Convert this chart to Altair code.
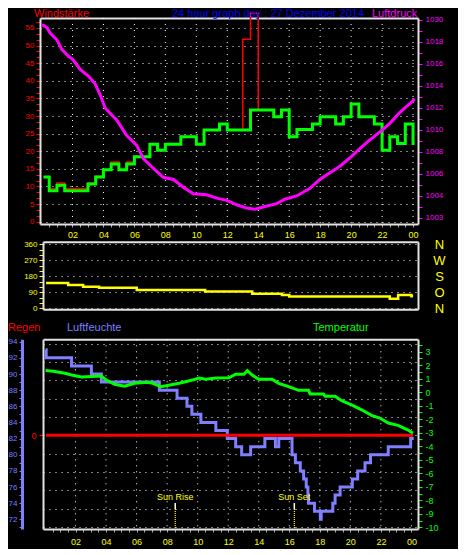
import altair as alt
import pandas as pd

# ---------------- data ----------------
wind_hours = [0.13, 0.5, 1.0, 1.5, 3.0, 3.5, 4.0, 4.5, 5.0, 5.5, 6.0, 7.0, 7.5, 8.0, 9.0, 10.0, 10.5, 11.5, 12.0, 13.5,
              15.0, 15.5, 16.0, 16.5, 17.5, 18.0, 19.0, 19.5, 20.0, 20.5, 21.5, 22.0, 22.5, 23.0, 23.5, 24.0, 24.1]
wind_avg = [12.7, 8.8, 10.3, 8.8, 10.7, 12.7, 14.7, 16.4, 14.7, 16.4, 18.4, 22.0, 20.3, 22.0, 24.1, 22.0, 26.0, 27.7, 26.0, 31.7,
            29.8, 31.7, 24.1, 26.2, 27.7, 29.8, 27.7, 29.8, 33.4, 29.8, 27.7, 20.3, 24.1, 22.2, 27.7, 22.2, 22.2]

gust_hours = [0.13, 0.5, 1.0, 1.5, 3.0, 3.5, 4.0, 4.5, 5.0, 5.5, 6.0, 7.0, 7.5, 8.0, 9.0, 10.0, 10.5, 11.5, 12.0, 13.0,
              13.5, 14.0, 15.0, 15.5, 16.0, 16.5, 17.5, 18.0, 19.0, 19.5, 20.0, 20.5, 21.5, 22.0, 22.5, 23.0, 23.5, 24.0, 24.1]
wind_gust = [12.7, 9.4, 11.0, 9.4, 11.0, 12.9, 14.7, 16.9, 14.7, 16.9, 18.4, 22.0, 20.3, 22.0, 24.1, 22.0, 26.0, 27.7, 26.0, 51.8,
             59.2, 31.7, 29.8, 31.7, 24.1, 26.2, 27.7, 29.8, 27.7, 29.8, 33.4, 29.8, 27.7, 20.3, 24.1, 22.2, 27.7, 22.2, 22.2]

press_hours = [0.03, 0.35, 0.56, 0.99, 1.32, 1.74, 2.03, 2.50, 3.03, 3.46, 3.79, 4.11, 4.65, 4.86, 5.51, 6.15, 6.58, 7.23,
               7.87, 8.52, 9.16, 9.81, 10.67, 11.32, 11.96, 12.61, 13.25, 13.79, 14.32, 15.19, 15.72, 16.48, 17.34, 17.98,
               18.63, 19.28, 20.03, 20.56, 21.21, 21.85, 22.50, 23.15, 23.79, 24.11]
pressure = [1019.6, 1019.3, 1018.8, 1018.2, 1017.3, 1016.7, 1016.4, 1015.5, 1014.9, 1014.2, 1013.2, 1012.0, 1011.2, 1010.9,
            1009.5, 1008.6, 1007.4, 1006.5, 1005.7, 1005.5, 1004.8, 1004.2, 1004.1, 1003.8, 1003.6, 1003.2, 1002.9, 1002.8,
            1003.0, 1003.3, 1003.7, 1004.0, 1004.7, 1005.5, 1006.1, 1006.7, 1007.6, 1008.3, 1009.1, 1009.8, 1010.6, 1011.6,
            1012.4, 1012.8]

dir_hours = [0.07, 1.52, 2.5, 3.54, 6.01, 10.49, 13.57, 15.52, 16.0, 22.58, 23.13, 24.0, 24.1]
wind_dir = [142, 131, 121, 116, 103, 94, 82, 75, 66, 54, 75, 68, 68]
dir_letters_at = [0, 90, 180, 270, 360]

hum_hours = [0.04, 0.08, 1.74, 3.04, 3.69, 7.49, 8.65, 9.3, 9.62, 10.21, 11.19, 11.94, 12.49, 12.88, 13.47, 14.4, 15.09,
             15.31, 16.18, 16.4, 16.72, 16.94, 17.11, 17.22, 17.26, 17.65, 18.03, 18.09, 18.85, 19.0, 19.33, 20.13, 20.48,
             20.96, 21.32, 22.48, 23.95, 24.15]
humidity = [93, 92, 91, 90, 89, 88, 87, 86, 85, 84, 83, 82, 81, 80, 81, 82, 81, 82, 80, 79, 78, 77, 76, 75, 74, 73, 72, 73,
            74, 75, 76, 77, 78, 79, 80, 81, 82, 82]

temp_hours = [0.04, 0.54, 1.3, 1.74, 2.39, 3.69, 4.02, 4.56, 5.21, 5.86, 6.73, 7.06, 7.6, 8.79, 9.66, 10.1, 10.53, 11.19,
              12.05, 12.49, 13.03, 13.25, 13.57, 14.0, 14.87, 15.31, 15.96, 16.61, 17.26, 17.37, 18.24, 18.35, 19.0, 19.43,
              20.08, 20.74, 21.39, 21.93, 22.48, 23.13, 23.78, 24.1]
temperature = [1.6, 1.55, 1.4, 1.27, 1.13, 1.2, 0.9, 0.59, 0.44, 0.66, 0.73, 0.66, 0.41, 0.66, 0.9, 1.05, 0.97, 1.05, 1.07,
               1.33, 1.33, 1.6, 1.27, 0.96, 0.96, 0.66, 0.41, 0.14, 0.14, -0.13, -0.13, -0.3, -0.3, -0.63, -0.93, -1.3,
               -1.71, -1.91, -2.28, -2.45, -2.8, -3.04]

rain_hours = [0.07, 24.1]
rain = [0, 0]

sun_hours = [8.53, 16.33]
sun_labels = ["Sun Rise", "Sun Set"]

grid_hours = [2, 4, 6, 8, 10, 12, 14, 16, 18, 20, 22, 24]
time_ticks = [i * 0.5 for i in range(1, 49)]
wind_ticks = [round(k * 5 / 3, 3) for k in range(0, 35)]
press_ticks = list(range(1002, 1021))
dir_ticks = list(range(0, 361, 30))
hum_ticks = list(range(71, 95))
temp_ticks = [k * 0.5 for k in range(-20, 8)]
rain_ticks = list(range(-5, 6))

titles = ["Windstärke", "24 hour graph day : 27 Dezember 2014", "Luftdruck", "Regen", "Luftfeuchte", "Temperatur"]

# ---------------- styling / layout ----------------
FONT = "Liberation Sans"
FRAME = "#e2e2e2"
GRID = "#ffffff"
RED, GREEN, MAGENTA, YELLOW, HUM, BLUE = "#ff0000", "#00ff00", "#ff00ff", "#ffff00", "#7f7fff", "#0000ff"

W, H = 376, 511
P1_TOP, P1_BOT = 0, 206
P2_TOP, P2_BOT = 223.7, 291.3
P3_TOP, P3_BOT = 321.3, 511

X1 = alt.Scale(domain=[-0.097, 24.32], range=[-2, W], nice=False, zero=False)
X3 = alt.Scale(domain=[-0.13, 24.43], range=[1, W], nice=False, zero=False)
Y_wind = alt.Scale(domain=[-0.68, 57.84], range=[P1_BOT, P1_TOP], nice=False, zero=False)
Y_press = alt.Scale(domain=[1001.45, 1020.18], range=[P1_BOT, P1_TOP], nice=False, zero=False)
Y_dir = alt.Scale(domain=[-5.6, 374.6], range=[P2_BOT, P2_TOP], nice=False, zero=False)
Y_hum = alt.Scale(domain=[70.80, 94.30], range=[P3_BOT, P3_TOP], nice=False, zero=False)
Y_temp = alt.Scale(domain=[-10.126, 3.918], range=[P3_BOT, P3_TOP], nice=False, zero=False)
Y_rain = alt.Scale(domain=[-5.12, 5.246], range=[P3_BOT, P3_TOP], nice=False, zero=False)

HOUR_LABEL = ("datum.value % 2 == 0 ? (datum.value % 24 < 10 ? '0' + (datum.value % 24) : '' + datum.value) : ''")


def border_x(orient, offset):
    return alt.Axis(orient=orient, offset=offset, labels=False, ticks=False, grid=False, domain=True,
                    domainColor=FRAME, domainWidth=2, title=None)


def time_axis(offset, pad):
    return alt.Axis(orient="bottom", offset=offset, values=time_ticks, labelExpr=HOUR_LABEL, labelColor=YELLOW,
                    labelFont=FONT, labelFontSize=9, labelPadding=pad, labelOverlap=False, labelFlush=False,
                    tickColor="#a8a8a8", tickSize=3, domainColor=FRAME, domainWidth=2, grid=False, title=None)


ax_wind = alt.Axis(orient="left", offset=2, values=wind_ticks,
                   labelExpr="datum.value % 5 == 0 ? '' + datum.value : ''",
                   labelColor=RED, labelFont=FONT, labelFontSize=8, labelPadding=2, labelOverlap=False,
                   labelFlush=False, tickColor=RED, tickSize=4, domainColor=FRAME, domainWidth=2,
                   grid=True, gridColor=GRID, gridDash=[1, 5],
                   gridOpacity={"condition": {"test": "datum.value % 5 == 0", "value": 1}, "value": 0},
                   title=None)
ax_press = alt.Axis(orient="right", offset=0, values=press_ticks,
                    labelExpr=("datum.value % 2 != 0 ? '' : datum.value == 1020 ? '1030' : "
                               "datum.value == 1002 ? '1003' : '' + datum.value"),
                    labelColor=MAGENTA, labelFont=FONT, labelFontSize=8, labelPadding=3, labelOverlap=False,
                    labelFlush=False, tickColor=MAGENTA, tickSize=4, domainColor=FRAME, domainWidth=2,
                    grid=False, title=None)
ax_dir = alt.Axis(orient="left", offset=-1, values=dir_ticks,
                  labelExpr="datum.value % 90 == 0 ? '' + datum.value : ''",
                  labelColor=YELLOW, labelFont=FONT, labelFontSize=8, labelPadding=2, labelOverlap=False,
                  labelFlush=False, tickColor=YELLOW, tickSize=4, domainColor=FRAME, domainWidth=2,
                  grid=True, gridColor=GRID, gridDash=[1, 5],
                  gridOpacity={"condition": {"test": "datum.value % 90 == 0", "value": 1}, "value": 0},
                  title=None)
ax_dir_letters = alt.Axis(orient="right", offset=0, values=dir_letters_at,
                          labelExpr=("datum.value == 360 ? 'N' : datum.value == 270 ? 'W' : "
                                     "datum.value == 180 ? 'S' : datum.value == 90 ? 'O' : 'N'"),
                          labelColor=YELLOW, labelFont=FONT, labelFontSize=13, labelAlign="center",
                          labelPadding=21, labelOverlap=False, labelFlush=False, tickSize=0, tickOpacity=0,
                          domainColor=FRAME, domainWidth=2, grid=False, title=None)
ax_hum = alt.Axis(orient="left", offset=20, values=hum_ticks,
                  labelExpr="datum.value % 2 == 0 ? '' + datum.value : ''",
                  labelColor=HUM, labelFont=FONT, labelFontSize=8, labelPadding=2, labelOverlap=False,
                  labelFlush=False, tickColor=HUM, tickSize=3, domainColor=HUM, domainWidth=3,
                  grid=False, title=None)
ax_rain = alt.Axis(orient="left", offset=-1, values=rain_ticks,
                   labelExpr="datum.value == 0 ? '0' : ''",
                   labelColor=RED, labelFont=FONT, labelFontSize=9, labelPadding=3, labelOverlap=False,
                   labelFlush=False, tickColor=RED, tickSize=4,
                   tickOpacity={"condition": {"test": "datum.value == 0", "value": 1}, "value": 0},
                   domainColor=FRAME, domainWidth=2, grid=True, gridColor=GRID, gridDash=[1, 5], title=None)
ax_temp = alt.Axis(orient="right", offset=0, values=temp_ticks,
                   labelExpr="datum.value % 1 == 0 ? '' + datum.value : ''",
                   labelColor=GREEN, labelFont=FONT, labelFontSize=9, labelPadding=3, labelOverlap=False,
                   labelFlush=False, tickColor=GREEN, tickSize=4, domainColor=FRAME, domainWidth=2,
                   grid=False, title=None)

# ---------------- tables ----------------
df_wind = pd.DataFrame({"h": wind_hours, "v": wind_avg})
df_gust = pd.DataFrame({"h": gust_hours, "v": wind_gust})
df_press = pd.DataFrame({"h": press_hours, "v": pressure})
df_dir = pd.DataFrame({"h": dir_hours, "v": wind_dir})
df_hum = pd.DataFrame({"h": hum_hours, "v": humidity})
df_temp = pd.DataFrame({"h": temp_hours, "v": temperature})
df_rain = pd.DataFrame({"h": rain_hours, "v": rain})
df_sun = pd.DataFrame({"h": sun_hours, "label": sun_labels})
df_grid = pd.DataFrame({"h": grid_hours})
one_row = pd.DataFrame({"k": [0]})

# ---------------- layers ----------------
grid1 = alt.Chart(df_grid).mark_rule(color=GRID, strokeDash=[1, 5], strokeWidth=1).encode(
    x=alt.X("h:Q", scale=X1, axis=None), y=alt.value(P1_TOP), y2=alt.value(P1_BOT))
grid3 = alt.Chart(df_grid).mark_rule(color=GRID, strokeDash=[1, 5], strokeWidth=1).encode(
    x=alt.X("h:Q", scale=X3, axis=None), y=alt.value(P3_TOP), y2=alt.value(P3_BOT))

gust = alt.Chart(df_gust).mark_line(color=RED, strokeWidth=1.5, interpolate="step-after").encode(
    x=alt.X("h:Q", scale=X1, axis=time_axis(P1_BOT - H, 3)),
    y=alt.Y("v:Q", scale=Y_wind, axis=ax_wind))
wind = alt.Chart(df_wind).mark_line(color=GREEN, strokeWidth=3, interpolate="step-after").encode(
    x=alt.X("h:Q", scale=X1, axis=border_x("top", -P1_TOP)),
    y=alt.Y("v:Q", scale=Y_wind, axis=None))
press = alt.Chart(df_press).mark_line(color=MAGENTA, strokeWidth=3).encode(
    x=alt.X("h:Q", scale=X1, axis=None),
    y=alt.Y("v:Q", scale=Y_press, axis=ax_press))

wdir = alt.Chart(df_dir).mark_line(color=YELLOW, strokeWidth=2.5, interpolate="step-after").encode(
    x=alt.X("h:Q", scale=X3, axis=border_x("top", -P2_TOP)),
    y=alt.Y("v:Q", scale=Y_dir, axis=ax_dir))
wdir_frame = alt.Chart(df_dir).mark_line(strokeOpacity=0, interpolate="step-after").encode(
    x=alt.X("h:Q", scale=X3, axis=border_x("bottom", P2_BOT - H)),
    y=alt.Y("v:Q", scale=Y_dir, axis=ax_dir_letters))

hum = alt.Chart(df_hum).mark_line(color=HUM, strokeWidth=3, interpolate="step-after").encode(
    x=alt.X("h:Q", scale=X3, axis=border_x("top", -P3_TOP)),
    y=alt.Y("v:Q", scale=Y_hum, axis=ax_hum))
rainl = alt.Chart(df_rain).mark_line(color=RED, strokeWidth=3).encode(
    x=alt.X("h:Q", scale=X3, axis=None),
    y=alt.Y("v:Q", scale=Y_rain, axis=ax_rain))
temp = alt.Chart(df_temp).mark_line(color=GREEN, strokeWidth=3).encode(
    x=alt.X("h:Q", scale=X3, axis=time_axis(P3_BOT - H, 5)),
    y=alt.Y("v:Q", scale=Y_temp, axis=ax_temp))

sun_dot = alt.Chart(df_sun).mark_rule(color=YELLOW, strokeDash=[1, 1], strokeWidth=1.2).encode(
    x=alt.X("h:Q", scale=X3, axis=None), y=alt.value(491), y2=alt.value(P3_BOT))
sun_tick = alt.Chart(df_sun).mark_rule(color="#ffffff", strokeWidth=1.5).encode(
    x=alt.X("h:Q", scale=X3, axis=None), y=alt.value(485), y2=alt.value(491))
sun_txt = alt.Chart(df_sun).mark_text(color=YELLOW, font=FONT, fontSize=9, align="center", baseline="middle").encode(
    x=alt.X("h:Q", scale=X3, axis=None), y=alt.value(479), text="label:N")


def label(i, color, x, y):
    return alt.Chart(one_row).mark_text(color=color, font=FONT, fontSize=11, align="left",
                                        baseline="alphabetic").encode(
        x=alt.value(x), y=alt.value(y), text=alt.value(titles[i]))


texts = [
    label(0, RED, -8, -1),
    label(1, BLUE, 130, -1),
    label(2, MAGENTA, 330, -1),
    label(3, RED, -34, 313),
    label(4, HUM, 25, 313),
    label(5, GREEN, 271, 313),
]

chart = alt.layer(
    grid1, grid3, sun_dot, sun_tick, gust, wind, press, wdir, wdir_frame, hum, rainl, temp, sun_txt, *texts
).resolve_scale(x="independent", y="independent").properties(
    width=W, height=H, background="#000000",
    padding={"left": 34, "top": 10, "right": 40, "bottom": 20},
    autosize=alt.AutoSizeParams(type="none"),
).configure_view(stroke="transparent")

chart.save("out.html", embed_options={"renderer": "svg", "actions": False})
